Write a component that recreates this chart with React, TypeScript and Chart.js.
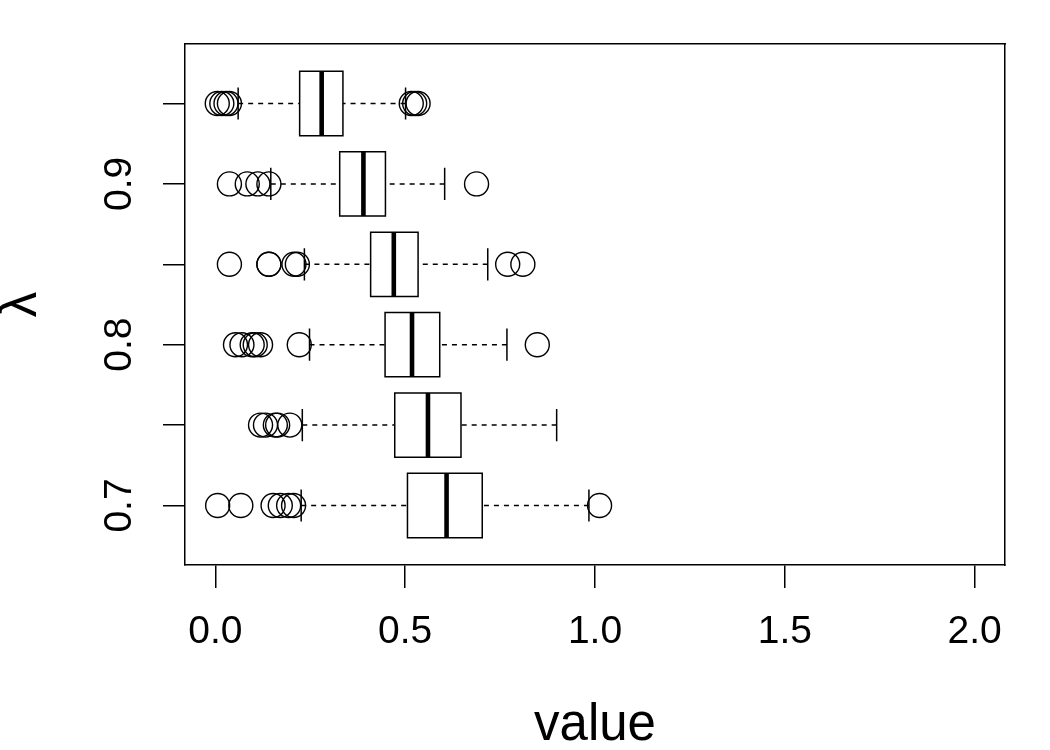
import React, { useEffect, useRef } from "react";
import { Chart, registerables } from "chart.js";

Chart.register(...registerables);

// ---- data ----
const LAMBDA = [0.7, 0.75, 0.8, 0.85, 0.9, 0.95];
const WHISKER_LOW = [0.226, 0.229, 0.248, 0.2345, 0.146, 0.06];
const Q1 = [0.506, 0.4725, 0.447, 0.409, 0.3275, 0.222];
const MEDIAN = [0.609, 0.56, 0.518, 0.47, 0.39, 0.28];
const Q3 = [0.703, 0.647, 0.591, 0.534, 0.448, 0.336];
const WHISKER_HIGH = [0.984, 0.899, 0.768, 0.7175, 0.604, 0.501];
const OUTLIERS = [
  [0.006, 0.067, 0.152, 0.171, 0.193, 0.206, 1.012],
  [0.119, 0.132, 0.158, 0.164, 0.196],
  [0.053, 0.07, 0.097, 0.105, 0.119, 0.221, 0.848],
  [0.037, 0.141, 0.141, 0.207, 0.216, 0.77, 0.81],
  [0.037, 0.084, 0.112, 0.141, 0.688],
  [0.005, 0.017, 0.028, 0.037, 0.516, 0.525, 0.534],
];
const X_TICKS = [0, 0.5, 1, 1.5, 2];
const X_TICK_LABELS = ["0.0", "0.5", "1.0", "1.5", "2.0"];
const Y_TICKS = [0.7, 0.75, 0.8, 0.85, 0.9, 0.95];
const Y_TICK_LABELS = ["0.7", "", "0.8", "", "0.9", ""];
const X_TITLE = "value";
const Y_TITLE = "λ";

// ---- styling / geometry constants ----
const X_MIN = -0.08;
const X_MAX = 2.08;
const Y_MIN = 0.663;
const Y_MAX = 0.987;
const BOX_HALF = 0.02; // half box thickness in λ units
const STAPLE_HALF = 0.01;
const FONT = "'Liberation Sans', Arial, Helvetica, sans-serif";
const LW = 1.5;
const BLACK = "#000";

const GAP = { x: NaN, y: NaN };

function lineSet(data: any[], extra: any = {}) {
  return {
    data,
    showLine: true,
    pointRadius: 0,
    pointHoverRadius: 0,
    borderColor: BLACK,
    backgroundColor: "transparent",
    borderWidth: LW,
    fill: false,
    tension: 0,
    spanGaps: false,
    borderCapStyle: "butt",
    borderJoinStyle: "miter",
    ...extra,
  };
}

function buildDatasets() {
  const ds: any[] = [];
  ds.push({
    data: OUTLIERS.flatMap((arr, i) => arr.map((v) => ({ x: v, y: LAMBDA[i] }))),
    showLine: false,
    pointStyle: "circle",
    pointRadius: 12,
    pointHoverRadius: 12,
    pointBorderWidth: 1.4,
    pointBorderColor: BLACK,
    pointBackgroundColor: "transparent",
    borderColor: BLACK,
    backgroundColor: "transparent",
  });
  LAMBDA.forEach((y, i) => {
    ds.push(
      lineSet(
        [
          { x: Q1[i], y: y - BOX_HALF },
          { x: Q3[i], y: y - BOX_HALF },
          { x: Q3[i], y: y + BOX_HALF },
          { x: Q1[i], y: y + BOX_HALF },
          { x: Q1[i], y: y - BOX_HALF },
        ],
        { borderCapStyle: "square" }
      )
    );
    ds.push(
      lineSet(
        [
          { x: WHISKER_LOW[i], y },
          { x: Q1[i], y },
          GAP,
          { x: WHISKER_HIGH[i], y },
          { x: Q3[i], y },
        ],
        { borderDash: [5, 5] }
      )
    );
    ds.push(
      lineSet([
        { x: WHISKER_LOW[i], y: y - STAPLE_HALF },
        { x: WHISKER_LOW[i], y: y + STAPLE_HALF },
        GAP,
        { x: WHISKER_HIGH[i], y: y - STAPLE_HALF },
        { x: WHISKER_HIGH[i], y: y + STAPLE_HALF },
      ])
    );
    ds.push(
      lineSet(
        [
          { x: MEDIAN[i], y: y - BOX_HALF },
          { x: MEDIAN[i], y: y + BOX_HALF },
        ],
        { borderWidth: 4.6 }
      )
    );
  });
  return ds;
}

export default function App() {
  const ref = useRef<HTMLCanvasElement>(null);
  useEffect(() => {
    if (!ref.current) return;
    const chart = new Chart(ref.current, {
      type: "scatter",
      data: { datasets: buildDatasets() },
      options: {
        responsive: false,
        devicePixelRatio: 1,
        animation: false,
        events: [],
        layout: { padding: { left: 0, right: 45, top: 44, bottom: 0 } },
        plugins: {
          legend: { display: false },
          tooltip: { enabled: false },
          title: { display: false },
        },
        scales: {
          x: {
            type: "linear",
            position: "bottom",
            min: X_MIN,
            max: X_MAX,
            afterBuildTicks: (scale: any) => {
              scale.ticks = X_TICKS.map((v) => ({ value: v }));
            },
            grid: {
              display: true,
              drawOnChartArea: false,
              drawTicks: true,
              tickLength: 23,
              color: BLACK,
              lineWidth: LW,
            },
            border: { display: true, color: BLACK, width: LW },
            ticks: {
              autoSkip: false,
              maxRotation: 0,
              minRotation: 0,
              padding: 25,
              color: BLACK,
              font: { family: FONT, size: 39, lineHeight: 1 },
              callback: (_v: any, i: number) => X_TICK_LABELS[i],
            },
            title: {
              display: true,
              text: X_TITLE,
              color: BLACK,
              font: { family: FONT, size: 51, lineHeight: 1 },
              padding: { top: 23.8, bottom: -1.8 },
            },
          },
          y: {
            type: "linear",
            position: "left",
            min: Y_MIN,
            max: Y_MAX,
            afterBuildTicks: (scale: any) => {
              scale.ticks = Y_TICKS.map((v) => ({ value: v }));
            },
            grid: {
              display: true,
              drawOnChartArea: false,
              drawTicks: true,
              tickLength: 22,
              color: BLACK,
              lineWidth: LW,
            },
            border: { display: true, color: BLACK, width: LW },
            ticks: {
              autoSkip: false,
              minRotation: 90,
              maxRotation: 90,
              crossAlign: "center",
              padding: 16,
              color: BLACK,
              font: { family: FONT, size: 39, lineHeight: 1 },
              callback: (_v: any, i: number) => Y_TICK_LABELS[i],
            },
            title: {
              display: true,
              text: Y_TITLE,
              color: BLACK,
              font: { family: FONT, size: 51, lineHeight: 0.86 },
              padding: { top: 0, bottom: 48.14 },
            },
          },
          x2: {
            type: "linear",
            position: "top",
            min: X_MIN,
            max: X_MAX,
            grid: { display: false, drawTicks: false, tickLength: 0 },
            ticks: { display: false },
            border: { display: true, color: BLACK, width: LW },
          },
          y2: {
            type: "linear",
            position: "right",
            min: Y_MIN,
            max: Y_MAX,
            grid: { display: false, drawTicks: false, tickLength: 0 },
            ticks: { display: false },
            border: { display: true, color: BLACK, width: LW },
          },
        },
      } as any,
    } as any);
    return () => chart.destroy();
  }, []);
  return (
    <div
      style={{
        position: "absolute",
        left: 0,
        top: 0,
        width: 1050,
        height: 750,
        background: "#fff",
      }}
    >
      <canvas
        ref={ref}
        width={1050}
        height={750}
        style={{ display: "block", width: 1050, height: 750 }}
      />
    </div>
  );
}
